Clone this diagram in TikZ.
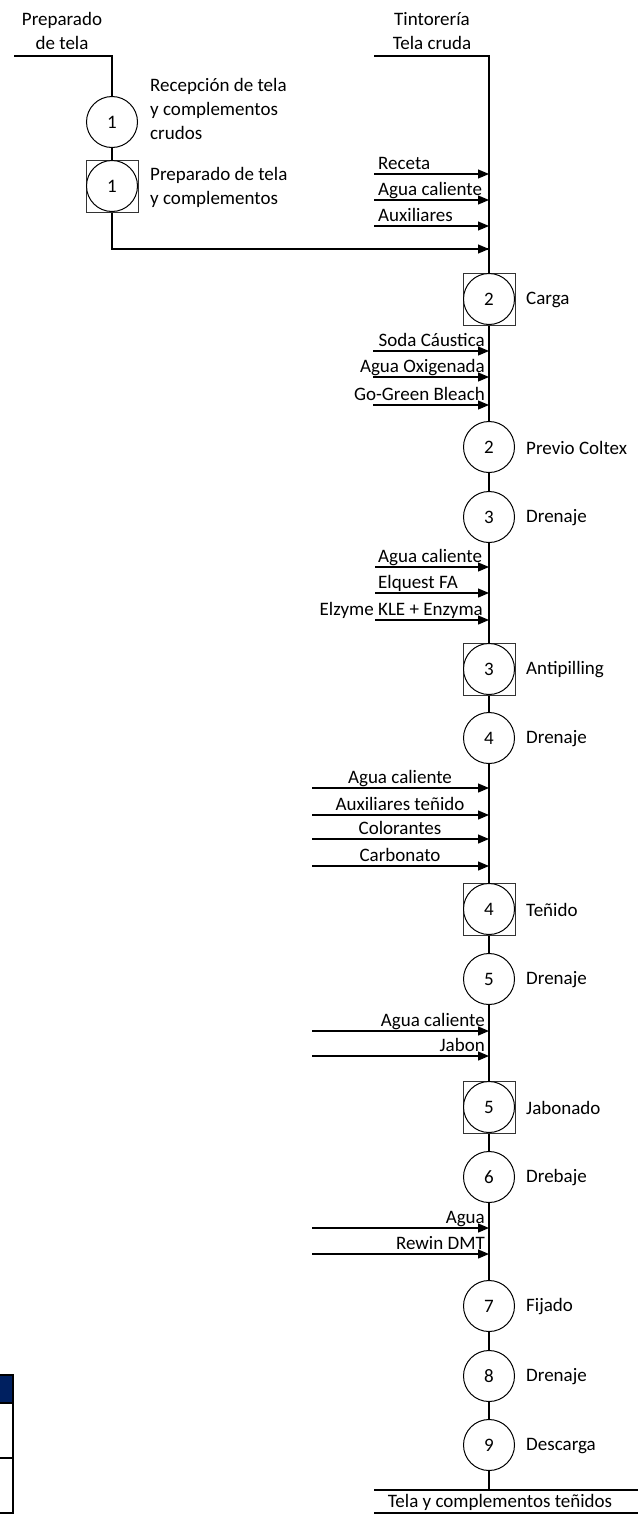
\documentclass[tikz,border=0pt]{standalone}
\usepackage{fontspec}
\setmainfont{Carlito}
\usetikzlibrary{arrows.meta}
\definecolor{navy}{HTML}{002060}
\begin{document}
\begin{tikzpicture}[x=1pt,y=-1pt,
  every node/.style={font=\fontsize{19}{24}\selectfont, inner sep=0pt},
  flow/.style={line width=2pt},
  opcirc/.style={circle, draw, line width=1pt, minimum size=51pt, fill=white},
  inspbox/.style={rectangle, draw=black!80, line width=1pt, minimum size=52pt},
  feed/.style={line width=1.2pt, -{Triangle[length=11pt,width=9pt]}},
  steplabel/.style={anchor=west, align=left},
]
\useasboundingbox (0,0) rectangle (638,1515);

% ---------- top labels
\node[align=center] (lblprep) at (62,31) {Preparado\\de tela};
\node[align=center] (lbltint) at (432,31) {Tintorería\\Tela cruda};

% ---------- left branch
\coordinate (lt) at (14,56);
\coordinate (lc) at (112,56);
\node[opcirc] (c1) at (112,122) {1};
\node[inspbox] (s1) at (112,186) {};
\node[opcirc] (s1c) at (112,186) {1};
\node[steplabel, anchor=north west] (t1) at (150,78) {Recepción de tela\\y complementos\\crudos};
\node[steplabel] (t1b) at (150,187) {Preparado de tela\\y complementos};
\coordinate (lb) at (112,249);
\coordinate (lbe) at (489,249);

% ---------- main line nodes
\coordinate (rt) at (374,56);
\coordinate (rc) at (489,56);
\node[inspbox] (s2) at (489,299) {};
\node[opcirc] (s2c) at (489,299) {2};
\node[steplabel] at (526,300) {Carga};
\node[opcirc] (c2) at (489,447) {2};
\node[steplabel] at (526,448) {Previo Coltex};
\node[opcirc] (c3) at (489,517) {3};
\node[steplabel] at (526,518) {Drenaje};
\node[inspbox] (s3) at (489,669) {};
\node[opcirc] (s3c) at (489,669) {3};
\node[steplabel] at (526,670) {Antipilling};
\node[opcirc] (c4) at (489,738) {4};
\node[steplabel] at (526,739) {Drenaje};
\node[inspbox] (s4) at (489,909) {};
\node[opcirc] (s4c) at (489,909) {4};
\node[steplabel] at (526,910) {Teñido};
\node[opcirc] (c5) at (489,979) {5};
\node[steplabel] at (526,980) {Drenaje};
\node[inspbox] (s5) at (489,1107) {};
\node[opcirc] (s5c) at (489,1107) {5};
\node[steplabel] at (526,1108) {Jabonado};
\node[opcirc] (c6) at (489,1177) {6};
\node[steplabel] at (526,1178) {Drebaje};
\node[opcirc] (c7) at (489,1306) {7};
\node[steplabel] at (526,1307) {Fijado};
\node[opcirc] (c8) at (489,1376) {8};
\node[steplabel] at (526,1377) {Drenaje};
\node[opcirc] (c9) at (489,1445) {9};
\node[steplabel] at (526,1446) {Descarga};
\coordinate (bend) at (489,1490);
\coordinate (bl) at (374,1490);
\coordinate (br) at (638,1490);
\coordinate (bl2) at (374,1513);
\coordinate (br2) at (638,1513);
\node (tout) at (500,1502) {Tela y complementos teñidos};

% ---------- flow lines
\draw[flow] (lt) -- (lc) -- (c1.north);
\draw[flow] (c1.south) -- (s1.north);
\draw[flow] (s1.south) -- (lb) -- (lbe);
\draw[flow] (rt) -- (rc) -- (s2.north);
\draw[flow] (s2.south) -- (c2.north);
\draw[flow] (c2.south) -- (c3.north);
\draw[flow] (c3.south) -- (s3.north);
\draw[flow] (s3.south) -- (c4.north);
\draw[flow] (c4.south) -- (s4.north);
\draw[flow] (s4.south) -- (c5.north);
\draw[flow] (c5.south) -- (s5.north);
\draw[flow] (s5.south) -- (c6.north);
\draw[flow] (c6.south) -- (c7.north);
\draw[flow] (c7.south) -- (c8.north);
\draw[flow] (c8.south) -- (c9.north);
\draw[flow] (c9.south) -- (bend);
\draw[flow] (bl) -- (br);
\draw[flow] (bl2) -- (br2);
\draw[feed] (lb) -- (lbe);

% ---------- feed arrows
% group 1
\foreach \y/\t in {174/Receta, 200/Agua caliente, 226/Auxiliares}{
  \coordinate (fa\y) at (374,\y); \coordinate (fb\y) at (489,\y);
  \draw[feed] (fa\y) -- (fb\y);
  \node[anchor=base west] (fl\y) at (378,\y-5) {\t};
}
% group 2
\foreach \y/\t in {351/Soda Cáustica, 377/Agua Oxigenada, 405/Go-Green Bleach}{
  \coordinate (fa\y) at (373,\y); \coordinate (fb\y) at (489,\y);
  \draw[feed] (fa\y) -- (fb\y);
  \node[anchor=base east] (fl\y) at (485,\y-5) {\t};
}
% group 3
\foreach \y/\t in {567/Agua caliente, 593/Elquest FA}{
  \coordinate (fa\y) at (375,\y); \coordinate (fb\y) at (489,\y);
  \draw[feed] (fa\y) -- (fb\y);
  \node[anchor=base west] (fl\y) at (378,\y-5) {\t};
}
\coordinate (fa620) at (375,620); \coordinate (fb620) at (489,620);
\draw[feed] (fa620) -- (fb620);
\node[anchor=base east] (fl620) at (483,615) {Elzyme KLE + Enzyma};
% group 4
\foreach \y/\t in {788/Agua caliente, 815/Auxiliares teñido, 839/Colorantes, 866/Carbonato}{
  \coordinate (fa\y) at (312,\y); \coordinate (fb\y) at (489,\y);
  \draw[feed] (fa\y) -- (fb\y);
  \node[anchor=base] (fl\y) at (400,\y-5) {\t};
}
% group 5 and 6
\foreach \y/\t in {1031/Agua caliente, 1056/Jabon, 1228/Agua, 1254/Rewin DMT}{
  \coordinate (fa\y) at (312,\y); \coordinate (fb\y) at (489,\y);
  \draw[feed] (fa\y) -- (fb\y);
  \node[anchor=base east] (fl\y) at (485,\y-5) {\t};
}

% ---------- table fragment bottom-left
\fill[navy] (0,1375) rectangle (13,1403);
\draw[line width=2pt] (0,1375) -- (13,1375) -- (13,1513) -- (0,1513);
\draw[line width=2pt] (0,1403) -- (13,1403);
\draw[line width=2pt] (0,1458) -- (13,1458);
\end{tikzpicture}
\end{document}
